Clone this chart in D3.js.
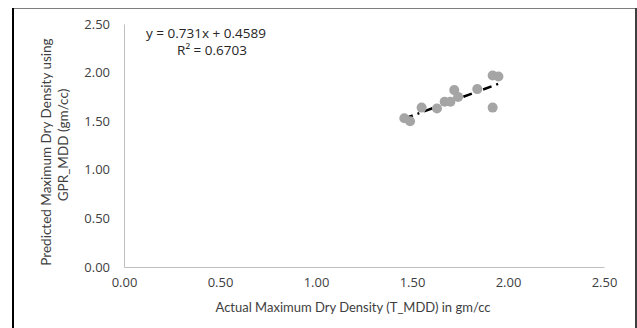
<!DOCTYPE html>
<html>
<head>
<meta charset="utf-8">
<style>
  body { margin: 0; background: #fff; }
  text { font-family: "Open Sans", sans-serif; }
</style>
</head>
<body>
<svg width="637" height="328"></svg>
<script src="https://d3js.org/d3.v7.min.js"></script>
<script>

// measured values (actual vs predicted MDD)
var actual    = [1.46, 1.49, 1.55, 1.63, 1.67, 1.70, 1.72, 1.74, 1.84, 1.92, 1.95, 1.92];
var predicted = [1.53, 1.50, 1.64, 1.63, 1.70, 1.70, 1.82, 1.75, 1.83, 1.97, 1.96, 1.64];
var xTicks = [0, 0.5, 1, 1.5, 2, 2.5];
var yTicks = [0, 0.5, 1, 1.5, 2, 2.5];
var slope = 0.731, intercept = 0.4589;

var svg = d3.select("svg");

var x = d3.scaleLinear().domain([0, 2.5]).range([124, 604]);
var y = d3.scaleLinear().domain([0, 2.5]).range([267, 24]);

// outer frame (cropped screenshot border)
svg.append("line").attr("x1", 12).attr("x2", 637).attr("y1", 8.5).attr("y2", 8.5)
    .attr("stroke", "#7f7f7f").attr("stroke-width", 1);
svg.append("line").attr("x1", 13).attr("x2", 13).attr("y1", 8).attr("y2", 328)
    .attr("stroke", "#000").attr("stroke-width", 2);
svg.append("line").attr("x1", 636).attr("x2", 636).attr("y1", 8).attr("y2", 328)
    .attr("stroke", "#3f3f3f").attr("stroke-width", 2);

var fmt = d3.format(".2f");

svg.append("g")
    .attr("transform", "translate(0," + y(0) + ")")
    .call(d3.axisBottom(x).tickValues(xTicks).tickFormat(fmt).tickSize(0).tickPadding(11));

svg.append("g")
    .attr("transform", "translate(" + x(0) + ",0)")
    .call(d3.axisLeft(y).tickValues(yTicks).tickFormat(fmt).tickSize(0).tickPadding(14));

svg.selectAll(".domain").attr("stroke", "#bfbfbf").attr("stroke-width", 1);
svg.selectAll(".tick text")
    .attr("fill", "#404040")
    .style("font-size", "13px")
    .style("font-family", "'Open Sans', sans-serif");

// axis titles
svg.append("text")
    .attr("x", 353)
    .attr("y", 312)
    .attr("text-anchor", "middle")
    .attr("fill", "#404040")
    .style("font-family", "Lato, sans-serif")
    .style("font-size", "13px")
    .text("Actual Maximum Dry Density (T_MDD) in gm/cc");

var yt = svg.append("text")
    .attr("transform", "translate(51,152) rotate(-90)")
    .attr("text-anchor", "middle")
    .attr("fill", "#404040")
    .style("font-family", "Lato, sans-serif")
    .style("font-size", "13.5px");
yt.append("tspan").attr("x", 0).attr("y", 0).text("Predicted Maximum Dry Density using");
yt.append("tspan").attr("x", 7).attr("y", 17).text("GPR_MDD (gm/cc)");

// linear trendline over the data range
var xr = d3.extent(actual);
svg.append("line")
    .attr("x1", x(xr[0])).attr("y1", y(slope * xr[0] + intercept))
    .attr("x2", x(xr[1])).attr("y2", y(slope * xr[1] + intercept))
    .attr("stroke", "#000")
    .attr("stroke-width", 2.5)
    .attr("stroke-dasharray", "9,5,2,5");

// points
svg.append("g").selectAll("circle")
    .data(actual)
    .enter().append("circle")
    .attr("cx", function(d) { return x(d); })
    .attr("cy", function(d, i) { return y(predicted[i]); })
    .attr("r", 5)
    .attr("fill", "#a5a5a5");

// equation label
var eq = svg.append("text")
    .attr("fill", "#262626")
    .attr("text-anchor", "middle")
    .style("font-size", "13.5px");
eq.append("tspan").attr("x", 206).attr("y", 38).text("y = 0.731x + 0.4589");
eq.append("tspan").attr("x", 212).attr("y", 55).text("R² = 0.6703");

</script>
</body>
</html>
